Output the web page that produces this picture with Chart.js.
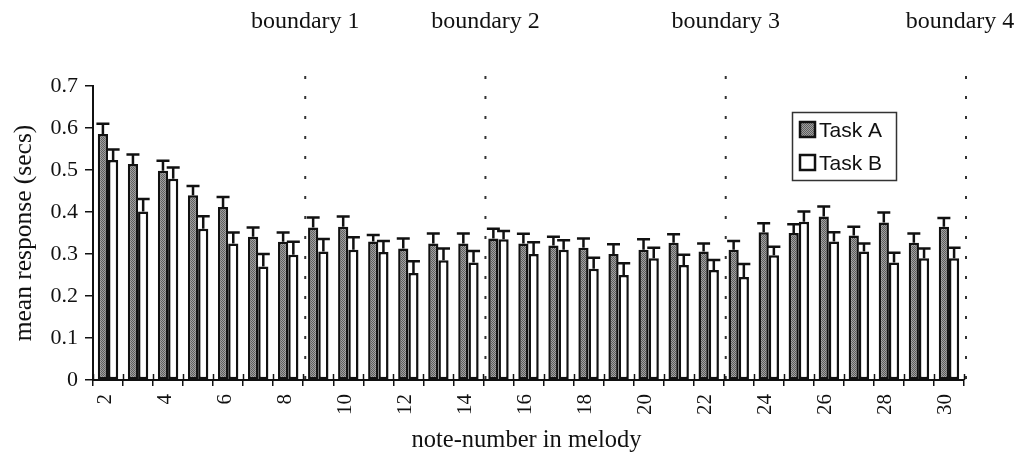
<!DOCTYPE html>
<html>
<head>
<meta charset="utf-8">
<script src="https://cdn.jsdelivr.net/npm/chart.js@4.4.1/dist/chart.umd.min.js"></script>
<style>
  html, body { margin: 0; padding: 0; background: #fff; }
  #wrap { width: 1026px; height: 455px; }
</style>
</head>
<body>
<div id="wrap"><canvas id="c" width="1026" height="455"></canvas></div>
<script>
// Mean response time per note position in the melody, for the two tasks.
const notes = [2, 3, 4, 5, 6, 7, 8, 9, 10, 11, 12, 13, 14, 15, 16,
               17, 18, 19, 20, 21, 22, 23, 24, 25, 26, 27, 28, 29, 30];
const taskA = [0.586, 0.514, 0.498, 0.440, 0.412, 0.341, 0.329, 0.363, 0.365, 0.330,
               0.313, 0.325, 0.325, 0.337, 0.325, 0.320, 0.315, 0.300, 0.310, 0.327,
               0.306, 0.310, 0.352, 0.350, 0.389, 0.344, 0.375, 0.327, 0.365];
const taskAErr = [0.024, 0.023, 0.024, 0.022, 0.024, 0.022, 0.022, 0.024, 0.024, 0.015,
                  0.024, 0.024, 0.024, 0.023, 0.023, 0.021, 0.022, 0.023, 0.025, 0.020,
                  0.019, 0.021, 0.021, 0.021, 0.024, 0.021, 0.024, 0.022, 0.021];
const taskB = [0.524, 0.401, 0.479, 0.360, 0.325, 0.270, 0.298, 0.306, 0.310, 0.305,
               0.255, 0.285, 0.280, 0.335, 0.300, 0.310, 0.265, 0.250, 0.290, 0.274,
               0.262, 0.245, 0.297, 0.377, 0.330, 0.306, 0.280, 0.290, 0.290];
const taskBErr = [0.025, 0.030, 0.027, 0.030, 0.026, 0.030, 0.031, 0.030, 0.030, 0.026,
                  0.028, 0.028, 0.027, 0.020, 0.028, 0.023, 0.026, 0.028, 0.025, 0.024,
                  0.024, 0.031, 0.020, 0.024, 0.022, 0.019, 0.023, 0.023, 0.025];
const yTicks = [0, 0.1, 0.2, 0.3, 0.4, 0.5, 0.6, 0.7];
const boundaryAfterNote = [8, 14, 22, 30];
const boundaryLabels = ['boundary 1', 'boundary 2', 'boundary 3', 'boundary 4'];

const SERIF = "'Liberation Serif', 'Times New Roman', serif";
const SANS = "'Liberation Sans', Arial, sans-serif";
const INK = '#111111';

// Fine stippled grey used for the Task A bars
function stipple() {
  const c = document.createElement('canvas');
  c.width = 2; c.height = 2;
  const g = c.getContext('2d');
  g.fillStyle = '#a0a0a0'; g.fillRect(0, 0, 2, 2);
  g.fillStyle = '#5e5e5e'; g.fillRect(0, 0, 1, 1); g.fillRect(1, 1, 1, 1);
  return g.createPattern(c, 'repeat');
}
const greyFill = stipple();

function drawText(ctx, text, x, y, font, opts = {}) {
  ctx.save();
  ctx.translate(x, y);
  if (opts.rotate) ctx.rotate(opts.rotate);
  ctx.font = font;
  ctx.fillStyle = INK;
  ctx.textAlign = opts.align || 'center';
  ctx.textBaseline = opts.baseline || 'alphabetic';
  ctx.fillText(text, 0, 0);
  ctx.restore();
}

// Dotted vertical separators with their labels along the top
const boundaryPlugin = {
  id: 'boundaries',
  beforeDatasetsDraw(chart) {
    const { ctx, scales: { x, y } } = chart;
    const step = x.getPixelForValue(1) - x.getPixelForValue(0);
    ctx.save();
    ctx.strokeStyle = '#333333';
    ctx.lineWidth = 2;
    ctx.setLineDash([3, 17]);
    boundaryAfterNote.forEach(n => {
      const idx = notes.indexOf(n);
      const px = x.getPixelForValue(idx) + step / 2 + 2;
      ctx.beginPath();
      ctx.moveTo(px, y.getPixelForValue(0.7) - 10);
      ctx.lineTo(px, y.getPixelForValue(0));
      ctx.stroke();
    });
    ctx.restore();
  },
  afterDraw(chart) {
    const { ctx, scales: { x } } = chart;
    const step = x.getPixelForValue(1) - x.getPixelForValue(0);
    boundaryAfterNote.forEach((n, k) => {
      const idx = notes.indexOf(n);
      const px = x.getPixelForValue(idx) + step / 2 + 2;
      drawText(ctx, boundaryLabels[k], Math.min(px, 960), 28, '24px ' + SERIF);
    });
  }
};

// Upper error bars with caps
const errorBarPlugin = {
  id: 'errorBars',
  afterDatasetsDraw(chart) {
    const { ctx, scales: { y } } = chart;
    ctx.save();
    ctx.strokeStyle = INK;
    ctx.lineWidth = 2.5;
    chart.data.datasets.forEach((ds, di) => {
      chart.getDatasetMeta(di).data.forEach((bar, i) => {
        const top = y.getPixelForValue(ds.data[i]);
        const cap = y.getPixelForValue(ds.data[i] + ds.errors[i]);
        ctx.beginPath();
        ctx.moveTo(bar.x, top);
        ctx.lineTo(bar.x, cap);
        ctx.moveTo(bar.x - 6.5, cap);
        ctx.lineTo(bar.x + 6.5, cap);
        ctx.stroke();
      });
    });
    ctx.restore();
  }
};

// Inner half of the crossing category tick marks, axis titles and the boxed legend
const decorPlugin = {
  id: 'decor',
  afterDraw(chart) {
    const { ctx, scales: { x, y }, chartArea } = chart;
    const step = x.getPixelForValue(1) - x.getPixelForValue(0);
    const base = y.getPixelForValue(0);
    ctx.save();
    ctx.strokeStyle = INK;
    ctx.lineWidth = 1.5;
    for (let i = 0; i <= notes.length; i++) {
      const px = Math.round(x.getPixelForValue(0) + (i - 0.5) * step) + 0.5;
      ctx.beginPath();
      ctx.moveTo(px, base);
      ctx.lineTo(px, base - 6);
      ctx.stroke();
    }
    ctx.restore();

    drawText(ctx, 'note-number in melody', (chartArea.left + chartArea.right) / 2 - 2, 447, '24.5px ' + SERIF);
    drawText(ctx, 'mean response (secs)', 31, (chartArea.top + chartArea.bottom) / 2, '25.5px ' + SERIF,
             { rotate: -Math.PI / 2 });

    // legend
    const lx = 792, ly = 112, lw = 104, lh = 68;
    ctx.save();
    ctx.fillStyle = '#fff';
    ctx.fillRect(lx, ly, lw, lh);
    ctx.strokeStyle = '#333';
    ctx.lineWidth = 1.5;
    ctx.strokeRect(lx + 0.5, ly + 0.5, lw, lh);
    chart.data.datasets.forEach((ds, i) => {
      const sy = ly + 10 + i * 33;
      ctx.fillStyle = ds.backgroundColor;
      ctx.fillRect(lx + 8, sy, 15, 15);
      ctx.strokeStyle = INK;
      ctx.lineWidth = 2.5;
      ctx.strokeRect(lx + 8, sy, 15, 15);
      drawText(ctx, ds.label, lx + 27, sy + 15, '21px ' + SANS, { align: 'left' });
    });
    ctx.restore();
  }
};

Chart.defaults.font.family = SERIF;
Chart.defaults.color = INK;

new Chart(document.getElementById('c'), {
  type: 'bar',
  data: {
    labels: notes,
    datasets: [
      { label: 'Task A', data: taskA, errors: taskAErr, backgroundColor: greyFill,
        borderColor: INK, borderWidth: 2.5, borderSkipped: false },
      { label: 'Task B', data: taskB, errors: taskBErr, backgroundColor: '#ffffff',
        borderColor: INK, borderWidth: 2.5, borderSkipped: false }
    ]
  },
  options: {
    responsive: false,
    animation: false,
    devicePixelRatio: 1,
    layout: { padding: { top: 86, right: 62, left: 0, bottom: 0 } },
    datasets: { bar: { categoryPercentage: 0.68, barPercentage: 1.0 } },
    plugins: { legend: { display: false }, tooltip: { enabled: false } },
    scales: {
      x: {
        offset: true,
        grid: { display: true, drawOnChartArea: false, drawTicks: true, tickLength: 6,
                color: INK, lineWidth: 1.5, offset: true },
        border: { display: true, color: INK, width: 2 },
        ticks: {
          autoSkip: false, maxRotation: 90, minRotation: 90, padding: 8, labelOffset: -3,
          font: { size: 21, family: SERIF }, color: INK,
          callback: (v, i) => (notes[i] % 2 === 0 ? String(notes[i]) : '')
        },
        afterFit: s => { s.height = 75; }
      },
      y: {
        min: 0, max: 0.7,
        afterBuildTicks: s => { s.ticks = yTicks.map(v => ({ value: v })); },
        grid: { display: true, drawOnChartArea: false, drawTicks: true, tickLength: 8,
                color: INK, lineWidth: 1.5 },
        border: { display: true, color: INK, width: 2 },
        ticks: {
          padding: 7, font: { size: 22, family: SERIF }, color: INK,
          callback: v => (v === 0 ? '0' : v.toFixed(1))
        },
        afterFit: s => { s.width = 93; }
      }
    }
  },
  plugins: [boundaryPlugin, errorBarPlugin, decorPlugin]
});
</script>
</body>
</html>
